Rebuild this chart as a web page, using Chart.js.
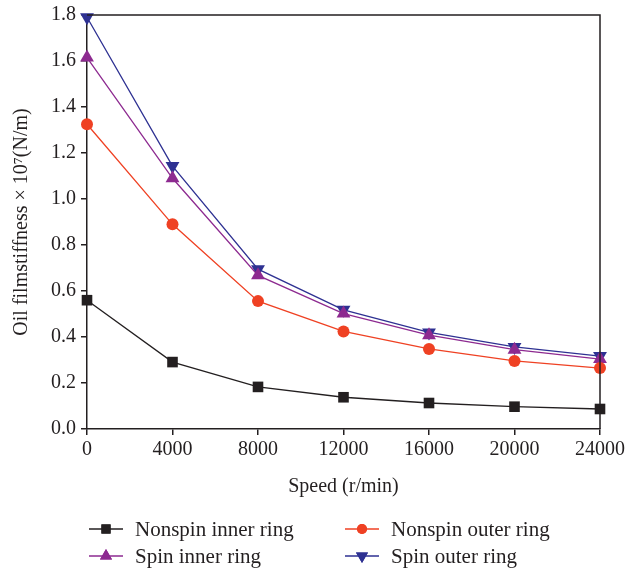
<!DOCTYPE html>
<html>
<head>
<meta charset="utf-8">
<script src="https://cdn.jsdelivr.net/npm/chart.js@4"></script>
<style>
  html, body { margin: 0; padding: 0; background: #fff; }
  #wrap { width: 626px; height: 572px; }
</style>
</head>
<body>
<div id="wrap"><canvas id="chart" width="626" height="572"></canvas></div>
<script>
const speeds = [0, 4000, 8000, 12000, 16000, 20000, 24000];
const nonspinInner = [0.56, 0.291, 0.183, 0.138, 0.113, 0.097, 0.087];
const nonspinOuter = [1.325, 0.89, 0.556, 0.424, 0.348, 0.296, 0.265];
const spinInner = [1.615, 1.09, 0.668, 0.502, 0.408, 0.345, 0.304];
const spinOuter = [1.79, 1.143, 0.695, 0.518, 0.42, 0.357, 0.317];
const xTicks = [0, 4000, 8000, 12000, 16000, 20000, 24000];
const yTicks = [0, 0.2, 0.4, 0.6, 0.8, 1.0, 1.2, 1.4, 1.6, 1.8];

const serif = "'Liberation Serif', 'DejaVu Serif', serif";
const ink = "#231f20";

const toPoints = (vals) => vals.map((v, i) => ({ x: speeds[i], y: v }));

const series = [
  { label: "Nonspin inner ring", data: nonspinInner, color: "#231f20", style: "rect", radius: 7.5, rotation: 0 },
  { label: "Nonspin outer ring", data: nonspinOuter, color: "#ef4123", style: "circle", radius: 6, rotation: 0 },
  { label: "Spin inner ring", data: spinInner, color: "#8d2a90", style: "triangle", radius: 8, rotation: 0 },
  { label: "Spin outer ring", data: spinOuter, color: "#2e3192", style: "triangle", radius: 8, rotation: 180 },
];

// box around the plot plus the two-column legend underneath
const framePlugin = {
  id: "frame",
  afterDraw(chart) {
    const { ctx, chartArea: a } = chart;
    ctx.save();
    ctx.strokeStyle = ink;
    ctx.lineWidth = 1.5;
    ctx.beginPath();
    ctx.moveTo(a.left, a.top);
    ctx.lineTo(a.right, a.top);
    ctx.lineTo(a.right, a.bottom);
    ctx.stroke();

    const cols = [89, 345];
    const rows = [529, 556];
    ctx.font = "21px " + serif;
    ctx.textBaseline = "middle";
    series.forEach((s, i) => {
      const x = cols[i % 2];
      const y = rows[Math.floor(i / 2)];
      ctx.strokeStyle = s.color;
      ctx.lineWidth = 1.3;
      ctx.beginPath();
      ctx.moveTo(x, y);
      ctx.lineTo(x + 34, y);
      ctx.stroke();
      ctx.fillStyle = s.color;
      Chart.helpers.drawPoint(ctx, {
        pointStyle: s.style,
        radius: s.radius - 1,
        rotation: s.rotation,
        borderWidth: 0,
      }, x + 17, y);
      ctx.fill();
      ctx.fillStyle = ink;
      ctx.fillText(s.label, x + 46, y + 1);
    });
    ctx.restore();
  },
};

new Chart(document.getElementById("chart"), {
  type: "line",
  data: {
    datasets: series.map((s) => ({
      label: s.label,
      data: toPoints(s.data),
      borderColor: s.color,
      backgroundColor: s.color,
      borderWidth: 1.3,
      pointStyle: s.style,
      pointRadius: s.radius,
      pointRotation: s.rotation,
      pointBorderWidth: 0,
      tension: 0,
      fill: false,
      clip: false,
    })),
  },
  options: {
    responsive: false,
    animation: false,
    layout: { padding: { top: 15, right: 26, bottom: 72, left: 0 } },
    plugins: {
      legend: { display: false },
      tooltip: { enabled: false },
    },
    scales: {
      x: {
        type: "linear",
        min: 0,
        max: 24000,
        afterBuildTicks: (axis) => { axis.ticks = xTicks.map((v) => ({ value: v })); },
        afterFit: (axis) => {
          axis.height = 71;
          axis.paddingLeft = 0;
          axis.paddingRight = 0;
        },
        border: { color: ink, width: 1.5 },
        grid: { drawOnChartArea: false, drawTicks: true, tickLength: 6, color: ink, lineWidth: 1.5 },
        ticks: {
          color: ink,
          font: { family: serif, size: 20 },
          padding: 3,
          maxRotation: 0,
          callback: (v) => String(v),
        },
        title: {
          display: true,
          text: "Speed (r/min)",
          color: ink,
          font: { family: serif, size: 20 },
          padding: { top: 4, bottom: 1 },
        },
      },
      y: {
        min: 0,
        max: 1.8,
        afterBuildTicks: (axis) => { axis.ticks = yTicks.map((v) => ({ value: v })); },
        afterFit: (axis) => {
          axis.width = 87;
          axis.paddingTop = 0;
          axis.paddingBottom = 0;
        },
        border: { color: ink, width: 1.5 },
        grid: { drawOnChartArea: false, drawTicks: true, tickLength: 6, color: ink, lineWidth: 1.5 },
        ticks: {
          color: ink,
          font: { family: serif, size: 20 },
          padding: 5,
          callback: (v) => v.toFixed(1),
        },
        title: {
          display: true,
          text: "Oil filmstiffness × 10⁷(N/m)",
          color: ink,
          font: { family: serif, size: 20 },
          padding: { top: 10, bottom: 0 },
        },
      },
    },
  },
  plugins: [framePlugin],
});
</script>
</body>
</html>
